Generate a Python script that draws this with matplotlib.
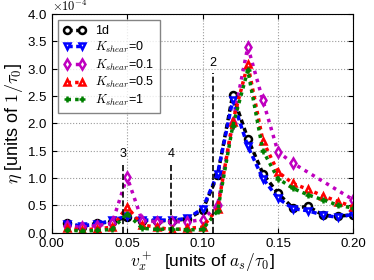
import matplotlib
matplotlib.use('Agg')
import matplotlib.pyplot as plt

plt.rcParams['font.family'] = ['Liberation Sans', 'DejaVu Sans']
plt.rcParams['mathtext.fontset'] = 'cm'
plt.rcParams['xtick.direction'] = 'in'
plt.rcParams['ytick.direction'] = 'in'

# velocities (units of a_s/tau_0)
v = [0.01, 0.02, 0.03, 0.04, 0.05, 0.06, 0.07, 0.08, 0.09, 0.10,
     0.11, 0.12, 0.13, 0.14, 0.15, 0.16, 0.17, 0.18, 0.19, 0.20]
v_k01 = [0.01, 0.02, 0.03, 0.04, 0.05, 0.06, 0.07, 0.08, 0.09, 0.10,
         0.11, 0.12, 0.13, 0.14, 0.15, 0.16, 0.20]

# eta in units of 1e-4 / tau_0
eta_1d = [0.17, 0.11, 0.17, 0.20, 0.29, 0.22, 0.22, 0.22, 0.25, 0.41,
          1.05, 2.52, 1.72, 1.08, 0.72, 0.45, 0.48, 0.32, 0.30, 0.33]
eta_k0 = [0.15, 0.13, 0.15, 0.23, 0.30, 0.23, 0.23, 0.23, 0.26, 0.44,
          1.08, 2.42, 1.58, 0.99, 0.63, 0.44, 0.40, 0.32, 0.28, 0.34]
eta_k01 = [0.12, 0.10, 0.13, 0.17, 1.02, 0.22, 0.20, 0.20, 0.20, 0.24,
           0.50, 2.00, 3.40, 2.42, 1.48, 1.27, 0.60]
eta_k05 = [0.08, 0.05, 0.07, 0.10, 0.47, 0.14, 0.10, 0.05, 0.08, 0.10,
           0.44, 2.03, 3.08, 1.68, 1.11, 0.90, 0.79, 0.67, 0.57, 0.47]
eta_k1 = [0.05, 0.03, 0.04, 0.06, 0.35, 0.08, 0.06, 0.07, 0.05, 0.06,
          0.40, 1.95, 2.97, 1.50, 0.99, 0.81, 0.69, 0.60, 0.50, 0.45]

# marked resonances: position, line top, label
mark_x = [0.047, 0.079, 0.107]
mark_top = [1.25, 1.25, 2.92]
mark_lbl = ['3', '4', '2']

scale = 1e-4

fig = plt.figure(figsize=(3.74, 2.80), dpi=100)
ax = fig.add_axes([0.138, 0.169, 0.807, 0.781])

series = [
    (v, eta_1d, 'k', 'o', (1.5, 1.0), '1d'),
    (v, eta_k0, 'b', 'v', (1.5, 1.0), r'$K_{shear}$=0'),
    (v_k01, eta_k01, 'm', 'd', (1.0, 1.4), r'$K_{shear}$=0.1'),
    (v, eta_k05, 'r', '^', (1.0, 1.2), r'$K_{shear}$=0.5'),
    (v, eta_k1, 'g', '+', (1.0, 1.2), r'$K_{shear}$=1'),
]
for xs, ys, c, m, dash, lab in series:
    ax.plot(xs, [y * scale for y in ys], color=c, ls='--', dashes=dash, lw=2.5,
            marker=m, ms=5, mfc='w', mec=c, mew=1.8, label=lab)

for xm, top, lbl in zip(mark_x, mark_top, mark_lbl):
    ax.plot([xm, xm], [0, top * scale], 'k--', lw=1.2)
    ax.text(xm, (top + 0.08) * scale, lbl, ha='center', va='bottom', fontsize=9)

ax.set_xlim(0, 0.2)
ax.set_ylim(0, 4e-4)
ax.set_xticks([0.0, 0.05, 0.10, 0.15, 0.20])
ax.xaxis.set_major_formatter(matplotlib.ticker.FormatStrFormatter('%.2f'))
ax.ticklabel_format(axis='y', style='sci', scilimits=(0, 0), useMathText=True)
ax.tick_params(labelsize=9.5, top=True, right=True)
ax.yaxis.get_offset_text().set_visible(False)
ax.text(0.0, 1.0, r'$\times10^{-4}$', transform=ax.transAxes, ha='left',
        va='bottom', fontsize=9)
ax.grid(True, ls=':', color='0.6', lw=0.8)

ax.set_xlabel(r'$v_x^+$  [units of $a_s/\tau_0$]', fontsize=12.5, labelpad=1)
ax.set_ylabel(r'$\eta$ [units of $1/\tau_0$]', fontsize=13, labelpad=1)

leg = ax.legend(loc='upper left', numpoints=2, fontsize=9, fancybox=False,
                handlelength=1.8, labelspacing=0.2, borderpad=0.4)
leg.get_frame().set_edgecolor('0.4')

fig.savefig('out.png', dpi=100)
